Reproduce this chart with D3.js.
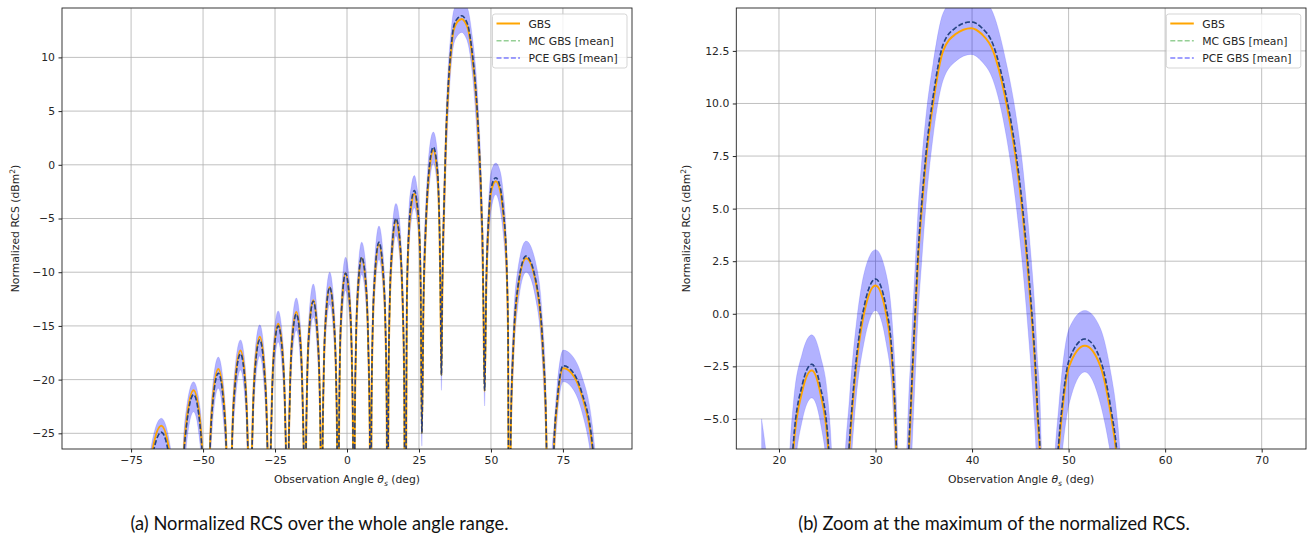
<!DOCTYPE html>
<html>
<head>
<meta charset="utf-8">
<script src="https://cdn.jsdelivr.net/npm/d3@7"></script>
<style>
  body { margin: 0; background: #fff; }
  svg { display: block; }
</style>
</head>
<body>
<svg id="fig" width="1309" height="538"></svg>
<script>
// observation angle (deg), sampled lobe by lobe
const theta = [
  -90, -81,
  -71.5, -70.8, -69.8, -68.0, -64.5, -61.4, -59.9, -58.9,
  -58.3, -57.8, -57.1, -55.8, -53.3, -51.0, -49.9, -49.2,
  -48.7, -48.3, -47.7, -46.7, -44.7, -42.8, -41.8, -41.2,
  -40.8, -40.4, -39.9, -38.9, -37.0, -35.3, -34.5, -33.9,
  -33.6, -33.3, -32.8, -32.0, -30.3, -28.7, -27.8, -27.3,
  -27.0, -26.7, -26.2, -25.5, -23.9, -22.3, -21.5, -21.0,
  -20.7, -20.4, -19.9, -19.2, -17.6, -16.1, -15.4, -14.9,
  -14.6, -14.3, -13.9, -13.2, -11.7, -10.3, -9.5, -9.1,
  -8.8, -8.5, -8.1, -7.4, -6.0, -4.6, -3.8, -3.4,
  -3.1, -2.8, -2.5, -1.8, -0.5, 1.0, 1.7, 2.1,
  2.4, 2.7, 3.1, 3.8, 5.1, 6.7, 7.4, 7.9,
  8.2, 8.5, 8.9, 9.7, 11.1, 12.6, 13.4, 13.8,
  14.1, 14.4, 14.8, 15.6, 17.0, 18.2, 19.0, 19.4, 19.9,
  20.2, 20.8, 21.5, 22.4, 23.4, 24.3, 25.1, 25.6,
  26.0, 26.6, 27.3, 28.0, 28.8, 30.0, 31.1, 31.75, 32.15, 32.45,
  32.8, 33.1, 33.47, 33.62, 33.86, 34.13, 34.4, 34.79, 35.27, 35.96, 37.0, 38.3,
  39.9, 41.0, 42.18, 43.56, 44.5, 45.18, 45.7, 46.15, 46.53, 46.8, 47.0, 47.35,
  47.8, 48.4, 48.98, 49.26, 50.05, 51.68, 53.3, 54.45, 54.9, 55.5, 55.95,
  56.3, 56.9, 57.8, 59.3, 62.2, 66.1, 68.0, 69.2,
  70.3, 71.0, 71.9, 73.0, 75.1, 78.0, 81.5, 85.3, 88.0, 90.0
];

// GBS, normalized RCS (dBm^2)
const gbs = [
  -34, -29.5,
  -45, -40.4, -32.6, -27.3, -24.3, -27.3, -32.6, -40.4,
  -45, -37.1, -29.3, -24.0, -21.0, -24.0, -29.3, -37.1,
  -45, -35.1, -27.3, -22.0, -19.0, -22.0, -27.3, -35.1,
  -45, -33.4, -25.6, -20.3, -17.3, -20.3, -25.6, -33.4,
  -45, -32.1, -24.3, -19.0, -16.0, -19.0, -24.3, -32.1,
  -45, -30.9, -23.1, -17.8, -14.8, -17.8, -23.1, -30.9,
  -45, -29.8, -22.0, -16.7, -13.7, -16.7, -22.0, -29.8,
  -45, -28.7, -20.9, -15.6, -12.6, -15.6, -20.9, -28.7,
  -45, -27.5, -19.7, -14.4, -11.4, -14.4, -19.7, -27.5,
  -45, -26.2, -18.4, -13.1, -10.1, -13.1, -18.4, -26.2,
  -45, -24.8, -17.0, -11.7, -8.7, -11.7, -17.0, -24.8,
  -45, -23.5, -15.7, -10.4, -7.4, -10.4, -15.7, -23.5,
  -45, -21.3, -13.5, -8.2, -5.2, -6.8, -10.3, -13.5, -21.3,
  -45, -12.7, -6.4, -3.7, -2.7, -3.8, -6.4, -11.7,
  -25.0, -12.5, -6.4, -2.5, 0.0, 1.35, 0.0, -2.5, -6.4, -12.0,
  -19.6, -12.0, -6.43, -5.0, -2.5, 0.0, 2.5, 5.0, 7.5, 10.0, 12.5, 13.3,
  13.58, 13.3, 12.5, 10.0, 7.5, 5.0, 2.5, 0.0, -2.5, -5.0, -6.43, -12.5,
  -21.1, -11.0, -6.43, -5.0, -2.5, -1.52, -2.5, -5.0, -6.43, -10.0, -16.0,
  -45, -24.8, -17.0, -11.7, -8.7, -11.7, -17.0, -24.8,
  -45, -38.5, -26.5, -22.3, -18.95, -19.4, -21.4, -26.5, -36.0, -45
];

// PCE GBS mean
const pceMean = [
  -34.5, -30.0,
  -45, -41.0, -33.2, -27.9, -24.9, -27.9, -33.2, -41.0,
  -45, -37.5, -29.7, -24.4, -21.4, -24.4, -29.7, -37.5,
  -45, -35.5, -27.7, -22.4, -19.4, -22.4, -27.7, -35.5,
  -45, -33.7, -25.9, -20.6, -17.6, -20.6, -25.9, -33.7,
  -45, -32.4, -24.6, -19.3, -16.3, -19.3, -24.6, -32.4,
  -45, -31.1, -23.3, -18.0, -15.0, -18.0, -23.3, -31.1,
  -45, -30.0, -22.2, -16.9, -13.9, -16.9, -22.2, -30.0,
  -45, -28.8, -21.0, -15.7, -12.7, -15.7, -21.0, -28.8,
  -45, -27.5, -19.7, -14.4, -11.4, -14.4, -19.7, -27.5,
  -45, -26.2, -18.4, -13.1, -10.1, -13.1, -18.4, -26.2,
  -45, -24.7, -16.9, -11.6, -8.6, -11.6, -16.9, -24.7,
  -45, -23.3, -15.5, -10.2, -7.2, -10.2, -15.5, -23.3,
  -45, -21.1, -13.3, -8.0, -5.0, -6.6, -10.1, -13.3, -21.1,
  -45, -12.4, -6.1, -3.4, -2.4, -3.5, -6.1, -11.4,
  -25.0, -12.2, -6.1, -2.2, 0.3, 1.65, 0.3, -2.2, -6.1, -11.7,
  -19.6, -11.7, -6.1, -4.7, -2.2, 0.3, 2.8, 5.3, 7.8, 10.3, 12.8, 13.6,
  13.88, 13.6, 12.8, 10.3, 7.8, 5.3, 2.8, 0.3, -2.2, -4.7, -6.1, -12.2,
  -21.0, -10.7, -6.1, -4.7, -2.2, -1.2, -2.2, -4.7, -6.1, -9.7, -15.7,
  -45, -24.6, -16.8, -11.5, -8.5, -11.5, -16.8, -24.6,
  -45, -38.2, -26.2, -22.0, -18.7, -19.15, -21.15, -26.2, -35.7, -45
];

// MC mean lies on the PCE mean everywhere in the picture
const mcMean = pceMean;

// PCE mean + std (upper edge of the band)
const pceUpper = [
  -32.5, -28.3,
  -43, -38.2, -31.1, -26.2, -23.6, -26.2, -31.1, -38.2,
  -43, -34.7, -27.6, -22.7, -20.2, -22.7, -27.6, -34.7,
  -43, -32.7, -25.6, -20.7, -17.9, -20.7, -25.6, -32.7,
  -43, -30.9, -23.8, -18.9, -16.3, -18.9, -23.8, -30.9,
  -43, -29.6, -22.5, -17.6, -14.9, -17.6, -22.5, -29.6,
  -43, -28.3, -21.2, -16.3, -13.6, -16.3, -21.2, -28.3,
  -43, -27.2, -20.1, -15.2, -12.4, -15.2, -20.1, -27.2,
  -43, -26.0, -18.9, -14.0, -11.1, -14.0, -18.9, -26.0,
  -43, -24.7, -17.6, -12.7, -10.0, -12.7, -17.6, -24.7,
  -43, -23.4, -16.3, -11.4, -8.6, -11.4, -16.3, -23.4,
  -43, -21.9, -14.8, -9.9, -7.2, -9.9, -14.8, -21.9,
  -43, -20.5, -13.4, -8.5, -5.7, -8.5, -13.4, -20.5,
  -43, -18.3, -11.2, -6.3, -3.6, -5.0, -8.3, -11.2, -18.3,
  -43, -10.5, -4.2, -1.9, -1.0, -2.0, -4.2, -8.6,
  -23.8, -9.5, -4.0, -0.5, 1.9, 3.05, 1.9, -0.5, -4.0, -9.0,
  -18.4, -9.2, -3.6, -2.3, 0.1, 2.5, 4.9, 7.3, 9.6, 11.9, 14.3, 15.0,
  15.28, 15.0, 14.3, 11.9, 9.6, 7.3, 4.9, 2.5, 0.1, -2.3, -3.6, -9.7,
  -19.6, -8.5, -4.4, -3.0, -0.7, 0.16, -0.7, -3.0, -4.4, -7.9, -13.5,
  -43, -21.8, -14.7, -9.8, -7.1, -9.8, -14.7, -21.8,
  -43, -28.0, -24.3, -20.5, -17.25, -17.7, -19.6, -24.4, -33.0, -43
];

// PCE mean - std (lower edge of the band)
const pceLower = [
  -36, -31.5,
  -47, -44.0, -35.5, -29.7, -26.5, -29.7, -35.5, -44.0,
  -47, -40.5, -32.0, -26.2, -23.0, -26.2, -32.0, -40.5,
  -47, -38.5, -30.0, -24.2, -20.8, -24.2, -30.0, -38.5,
  -47, -36.7, -28.2, -22.4, -19.1, -22.4, -28.2, -36.7,
  -47, -35.4, -26.9, -21.1, -17.8, -21.1, -26.9, -35.4,
  -47, -34.1, -25.6, -19.8, -16.5, -19.8, -25.6, -34.1,
  -47, -33.0, -24.5, -18.7, -15.4, -18.7, -24.5, -33.0,
  -47, -31.8, -23.3, -17.5, -14.2, -17.5, -23.3, -31.8,
  -47, -30.5, -22.0, -16.2, -13.0, -16.2, -22.0, -30.5,
  -47, -29.2, -20.7, -14.9, -11.7, -14.9, -20.7, -29.2,
  -47, -27.7, -19.2, -13.4, -10.2, -13.4, -19.2, -27.7,
  -47, -26.3, -17.8, -12.0, -8.8, -12.0, -17.8, -26.3,
  -47, -24.1, -15.6, -9.8, -6.6, -8.3, -12.1, -15.6, -24.1,
  -47, -15.4, -8.4, -5.1, -4.0, -5.2, -8.4, -14.4,
  -26.2, -15.0, -8.4, -4.0, -1.4, 0.15, -1.4, -4.0, -8.4, -14.5,
  -21.0, -15.2, -9.6, -8.2, -5.6, -2.9, -0.2, 2.5, 5.4, 8.4, 11.1, 12.0,
  12.33, 12.0, 11.1, 8.4, 5.4, 2.5, -0.2, -2.9, -5.6, -8.2, -9.6, -15.7,
  -22.45, -13.0, -8.5, -7.0, -4.3, -2.77, -4.3, -7.0, -8.5, -12.1, -18.5,
  -47, -27.6, -19.1, -13.3, -10.0, -13.3, -19.1, -27.6,
  -47, -41.0, -28.6, -23.8, -20.2, -20.7, -22.9, -28.6, -38.0, -47
];

const leftXTicks = [-75, -50, -25, 0, 25, 50, 75];
const leftYTicks = [-25, -20, -15, -10, -5, 0, 5, 10];
const rightXTicks = [20, 30, 40, 50, 60, 70];
const rightYTicks = [-5, -2.5, 0, 2.5, 5, 7.5, 10, 12.5];
const legendLabels = ["GBS", "MC GBS [mean]", "PCE GBS [mean]"];
const captions = [
  "(a) Normalized RCS over the whole angle range.",
  "(b) Zoom at the maximum of the normalized RCS."
];

const svg = d3.select("#fig");
const FONT = "DejaVu Sans, sans-serif";
const TXT = "#262626";

function drawPanel(p) {
  const g = svg.append("g");
  const x = d3.scaleLinear().domain(p.xDomain).range([p.left, p.right]);
  const y = d3.scaleLinear().domain(p.yDomain).range([p.bottom, p.top]);

  svg.append("clipPath").attr("id", p.id + "-clip")
    .append("rect")
    .attr("x", p.left).attr("y", p.top)
    .attr("width", p.right - p.left).attr("height", p.bottom - p.top);

  // grid
  g.append("g").selectAll("line").data(p.xTicks).join("line")
    .attr("x1", d => x(d)).attr("x2", d => x(d))
    .attr("y1", p.top).attr("y2", p.bottom)
    .attr("stroke", "#b0b0b0").attr("stroke-width", 0.8);
  g.append("g").selectAll("line").data(p.yTicks).join("line")
    .attr("y1", d => y(d)).attr("y2", d => y(d))
    .attr("x1", p.left).attr("x2", p.right)
    .attr("stroke", "#b0b0b0").attr("stroke-width", 0.8);

  const idx = d3.range(theta.length).filter(i => theta[i] >= p.tMin && theta[i] <= p.tMax);
  const plot = g.append("g").attr("clip-path", `url(#${p.id}-clip)`);

  const band = d3.area()
    .x(i => x(theta[i]))
    .y0(i => y(pceLower[i]))
    .y1(i => y(pceUpper[i]))
    .curve(d3.curveMonotoneX);
  plot.append("path").datum(idx).attr("d", band)
    .attr("fill", "blue").attr("fill-opacity", 0.3)
    .attr("stroke", "blue").attr("stroke-opacity", 0.15).attr("stroke-width", 0.8);

  const line = vals => d3.line()
    .x(i => x(theta[i]))
    .y(i => y(vals[i]))
    .curve(d3.curveMonotoneX);

  plot.append("path").datum(idx).attr("d", line(gbs))
    .attr("fill", "none").attr("stroke", "orange").attr("stroke-width", 2);
  plot.append("path").datum(idx).attr("d", line(mcMean))
    .attr("fill", "none").attr("stroke", "#2ca02c").attr("stroke-opacity", 0.5)
    .attr("stroke-width", 1.5).attr("stroke-dasharray", "5,2.2");
  // where the two dashed means overlap they read as a dark navy dash
  plot.append("path").datum(idx).attr("d", line(pceMean))
    .attr("fill", "none").attr("stroke", "#1c2a8c").attr("stroke-opacity", 0.85)
    .attr("stroke-width", 1.5).attr("stroke-dasharray", "5,2.2");

  // axes
  const xAxis = d3.axisBottom(x).tickValues(p.xTicks).tickSize(3.5).tickPadding(3.5).tickFormat(p.xFmt);
  g.append("g").attr("transform", `translate(0,${p.bottom})`).call(xAxis)
    .call(a => a.select(".domain").remove())
    .attr("font-family", FONT).attr("font-size", 10.8).attr("color", TXT);
  const yAxis = d3.axisLeft(y).tickValues(p.yTicks).tickSize(3.5).tickPadding(3.5).tickFormat(p.yFmt);
  g.append("g").attr("transform", `translate(${p.left},0)`).call(yAxis)
    .call(a => a.select(".domain").remove())
    .attr("font-family", FONT).attr("font-size", 10.8).attr("color", TXT);

  // spines
  g.append("rect")
    .attr("x", p.left).attr("y", p.top)
    .attr("width", p.right - p.left).attr("height", p.bottom - p.top)
    .attr("fill", "none").attr("stroke", "#222").attr("stroke-width", 0.9);

  // axis labels
  const xl = g.append("text")
    .attr("x", (p.left + p.right) / 2).attr("y", p.bottom + 34)
    .attr("text-anchor", "middle")
    .attr("font-family", FONT).attr("font-size", 10.8).attr("fill", TXT);
  xl.append("tspan").text("Observation Angle ");
  xl.append("tspan").attr("font-style", "italic").text("θ");
  xl.append("tspan").attr("font-style", "italic").attr("font-size", 7.6).attr("dy", 2.5).text("s");
  xl.append("tspan").attr("dy", -2.5).text(" (deg)");

  const yl = g.append("text")
    .attr("transform", `translate(${p.ylabelX},${(p.top + p.bottom) / 2}) rotate(-90)`)
    .attr("text-anchor", "middle")
    .attr("font-family", FONT).attr("font-size", 10.8).attr("fill", TXT);
  yl.append("tspan").text("Normalized RCS (dBm");
  yl.append("tspan").attr("font-size", 7.6).attr("dy", -4).text("2");
  yl.append("tspan").attr("dy", 4).text(")");

  // legend
  const lg = g.append("g").attr("transform", `translate(${p.legX},${p.legY})`);
  lg.append("rect")
    .attr("width", 134.5).attr("height", 54).attr("rx", 2.5)
    .attr("fill", "#fff").attr("fill-opacity", 0.8)
    .attr("stroke", "#d0d0d0").attr("stroke-width", 0.9);
  const styles = [
    { stroke: "orange", op: 1, w: 2, dash: null },
    { stroke: "#2ca02c", op: 0.5, w: 1.5, dash: "5,2.2" },
    { stroke: "blue", op: 0.5, w: 1.5, dash: "5,2.2" }
  ];
  legendLabels.forEach((lab, k) => {
    const yy = 9.5 + k * 17.3;
    lg.append("line")
      .attr("x1", 4).attr("x2", 27.5).attr("y1", yy).attr("y2", yy)
      .attr("stroke", styles[k].stroke).attr("stroke-opacity", styles[k].op)
      .attr("stroke-width", styles[k].w).attr("stroke-dasharray", styles[k].dash);
    lg.append("text")
      .attr("x", 36).attr("y", yy + 4)
      .attr("font-family", FONT).attr("font-size", 10.8).attr("fill", TXT)
      .text(lab);
  });
}

drawPanel({
  id: "a", left: 62, right: 632, top: 8, bottom: 449,
  xDomain: [-99, 99], yDomain: [-26.46, 14.6],
  xTicks: leftXTicks, yTicks: leftYTicks,
  xFmt: d3.format("d"), yFmt: d3.format("d"),
  tMin: -90, tMax: 90, ylabelX: 19, legX: 492.5, legY: 14
});

drawPanel({
  id: "b", left: 736.3, right: 1306, top: 8, bottom: 449,
  xDomain: [15.58, 74.59], yDomain: [-6.43, 14.54],
  xTicks: rightXTicks, yTicks: rightYTicks,
  xFmt: d3.format("d"), yFmt: d3.format(".1f"),
  tMin: 18.2, tMax: 72, ylabelX: 690, legX: 1166.3, legY: 14
});

// sub-figure captions
svg.selectAll("text.caption").data(captions).join("text")
  .attr("class", "caption")
  .attr("x", (d, i) => i === 0 ? 319.5 : 994)
  .attr("y", 530)
  .attr("text-anchor", "middle")
  .attr("font-family", "Lato, sans-serif").attr("font-size", 18.3).attr("fill", "#111")
  .text(d => d);
</script>
</body>
</html>
